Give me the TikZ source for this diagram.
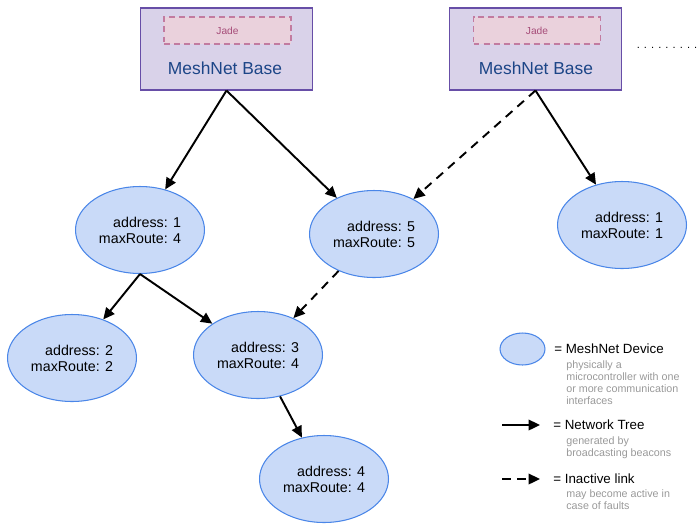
\documentclass[tikz,border=0pt]{standalone}
\usepackage{fontspec}
\setmainfont{Liberation Sans}
\usepackage{xcolor}
\usepackage{tikz}
\usetikzlibrary{positioning,calc,shapes.geometric,arrows.meta}

\definecolor{basefill}{HTML}{D9D2E9}
\definecolor{baseline}{HTML}{674EA7}
\definecolor{basetext}{HTML}{1C4587}
\definecolor{jadefill}{HTML}{EAD1DC}
\definecolor{jadeline}{HTML}{C27BA0}
\definecolor{jadetext}{HTML}{A64D79}
\definecolor{devfill}{HTML}{C9DAF8}
\definecolor{devline}{HTML}{4A86E8}
\definecolor{notegray}{HTML}{999999}

\begin{document}
\begin{tikzpicture}[
	x=0.02cm, y=-0.02cm,
	% Style for the base stations
	basebox/.style={draw=baseline, fill=basefill, line width=0.6pt,
		minimum width=3.44cm, minimum height=1.64cm},
	jadebox/.style={draw=jadeline, fill=jadefill, line width=0.8pt,
		dash pattern=on 3.4pt off 2.3pt, minimum width=2.54cm, minimum height=0.54cm,
		font=\fontsize{5.8}{6.5}\selectfont, text=jadetext},
	basetitle/.style={font=\fontsize{9.9}{11}\selectfont, text=basetext, inner sep=0pt},
	% Style for the mesh devices (ellipses)
	devnode/.style={ellipse, draw=devline, fill=devfill, line width=0.6pt,
		minimum width=2.58cm, minimum height=1.74cm, inner sep=0pt,
		align=right, font=\fontsize{8.1}{9.2}\selectfont},
	% Arrows: network tree (solid) and inactive link (dashed)
	tree_arrow/.style={-{Triangle[length=6.5pt,width=6pt]}, black, line width=1.1pt},
	inactive_arrow/.style={tree_arrow, dash pattern=on 5pt off 3.8pt},
	legendtitle/.style={anchor=west, inner sep=0pt, font=\fontsize{7.6}{9}\selectfont},
	legendnote/.style={anchor=north west, inner sep=0pt, align=left, text=notegray,
		font=\fontsize{6.1}{6.8}\selectfont}
	]
	\useasboundingbox (0,0) rectangle (700,525);
	
	% --- BASE STATIONS ---
	\node[basebox] (base1) at (226.5,49) {};
	\node[jadebox] (jade1) at (227.5,30.5) {Jade};
	\node[basetitle] (title1) at (225,68) {MeshNet Base};
	
	\node[basebox] (base2) at (535.5,49) {};
	\node[jadebox] (jade2) at (537,30.5) {Jade};
	\node[basetitle] (title2) at (536,68) {MeshNet Base};
	
	\node[inner sep=0pt, font=\fontsize{6.3}{7}\selectfont] (more) at (667,47.5) {. . . . . . . . .};
	
	% --- DEVICES ---
	\node[devnode] (dev1) at (140,230) {address: 1\\maxRoute: 4};
	\node[devnode] (dev5) at (374,234) {address: 5\\maxRoute: 5};
	\node[devnode] (dev1b) at (622,225) {address: 1\\maxRoute: 1};
	\node[devnode] (dev2) at (72,358) {address: 2\\maxRoute: 2};
	\node[devnode] (dev3) at (258,355) {address: 3\\maxRoute: 4};
	\node[devnode] (dev4) at (324,479) {address: 4\\maxRoute: 4};
	
	% --- NETWORK TREE ---
	\draw[tree_arrow] (base1.south) -- (dev1);
	\draw[tree_arrow] (base1.south) -- (dev5);
	\draw[tree_arrow] (base2.south) -- (dev1b);
	\draw[tree_arrow] (dev1.south) -- (dev2);
	\draw[tree_arrow] (dev1.south) -- (dev3);
	\draw[tree_arrow] (dev3) -- (dev4);
	
	% --- INACTIVE LINKS ---
	\draw[inactive_arrow] (base2.south) -- (dev5);
	\draw[inactive_arrow] (dev5) -- (dev3);
	
	% --- LEGEND ---
	\node[devnode, minimum width=0.9cm, minimum height=0.64cm] (keydev) at (522.5,349) {};
	\node[legendtitle] (keydevtext) at (554,349) {= MeshNet Device};
	\node[legendnote] (keydevnote) at (566,360.5) {physically a\\microcontroller with one\\or more communication\\interfaces};
	
	\coordinate (keytree_a) at (502,425);
	\coordinate (keytree_b) at (540,425);
	\draw[tree_arrow] (keytree_a) -- (keytree_b);
	\node[legendtitle] (keytreetext) at (553,425) {= Network Tree};
	\node[legendnote] (keytreenote) at (566,436.6) {generated by\\broadcasting beacons};
	
	\coordinate (keylink_a) at (502,479);
	\coordinate (keylink_b) at (540,479);
	\draw[inactive_arrow] (keylink_a) -- (keylink_b);
	\node[legendtitle] (keylinktext) at (553,479) {= Inactive link};
	\node[legendnote] (keylinknote) at (566,489.6) {may become active in\\case of faults};
	
\end{tikzpicture}
\end{document}
